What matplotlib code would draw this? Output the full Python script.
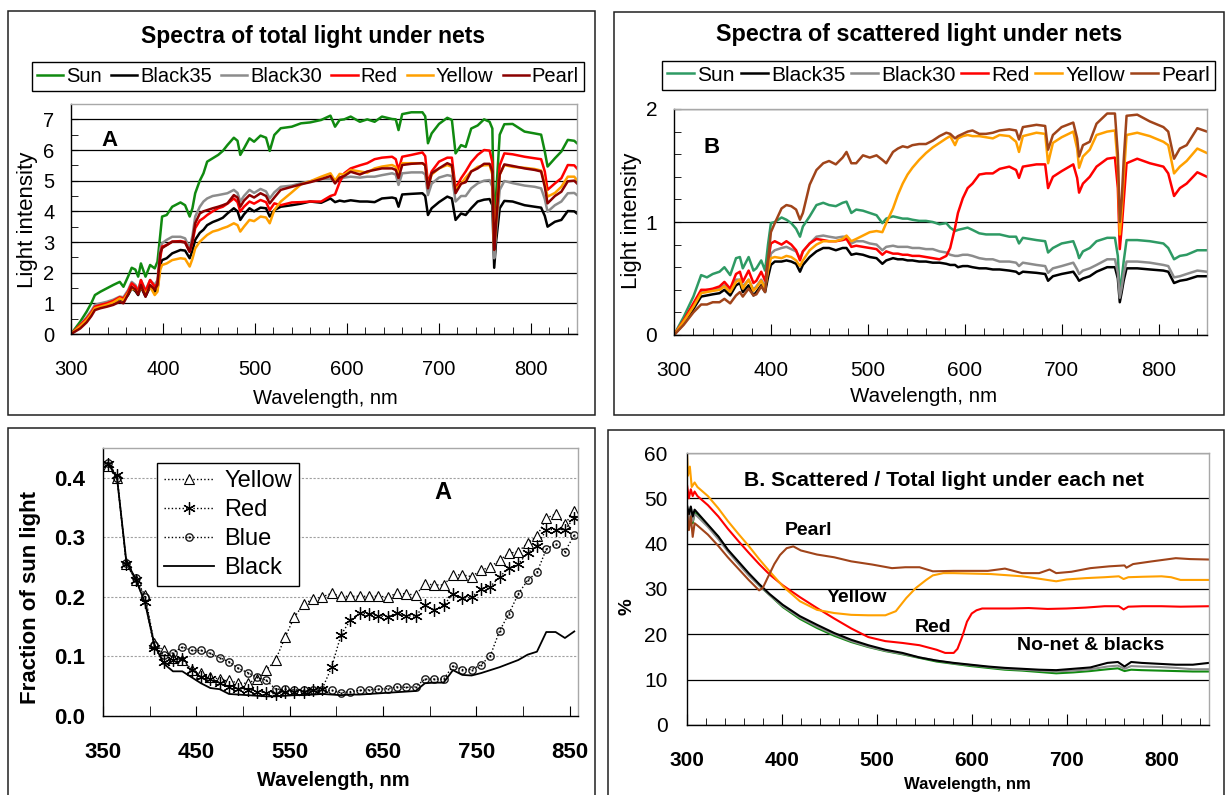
import matplotlib
matplotlib.use('Agg')
import matplotlib.pyplot as plt
from matplotlib.patches import Rectangle
from matplotlib.ticker import MultipleLocator, FixedLocator, FormatStrFormatter

plt.rcParams['font.family'] = ['Liberation Sans', 'DejaVu Sans']

# ---------------- DATA ----------------
# Panel A (top-left): total light spectra
wl_total = [300, 310, 317, 322, 326, 332, 339, 346, 353, 357,
            362, 366, 370, 373, 376, 381, 386, 391, 394, 397,
            399, 404, 410, 419, 424, 429, 432, 435, 440, 444,
            448, 454, 460, 465, 470, 477, 481, 484, 488, 494,
            499, 506, 512, 516, 521, 528, 540, 550, 560, 572,
            582, 587, 592, 597, 604, 614, 622, 630, 638, 649,
            653, 656, 660, 670, 682, 685, 688, 692, 700, 709,
            714, 718, 724, 729, 735, 742, 749, 755, 758, 760,
            762, 766, 771, 780, 793, 804, 811, 815, 818, 826,
            833, 840, 847, 850]
tot_sun = [0, 0.40, 0.73, 1.00, 1.27, 1.38, 1.49, 1.60, 1.70, 1.54,
           1.87, 2.16, 2.10, 1.87, 2.30, 1.87, 2.25, 2.14, 2.36, 3.23,
           3.83, 3.88, 4.15, 4.29, 4.20, 3.83, 4.10, 4.59, 5.00, 5.24,
           5.62, 5.73, 5.84, 5.97, 6.16, 6.40, 6.30, 5.84, 6.05, 6.38,
           6.27, 6.47, 6.40, 5.97, 6.49, 6.71, 6.76, 6.87, 6.90, 6.98,
           7.12, 6.76, 6.98, 7.00, 7.09, 6.92, 7.00, 6.92, 7.09, 7.01,
           7.00, 6.65, 7.17, 7.23, 7.23, 7.10, 6.22, 6.54, 6.85, 7.05,
           6.98, 5.89, 6.16, 6.10, 6.70, 6.80, 7.00, 6.92, 6.70, 3.40,
           4.50, 6.50, 6.84, 6.85, 6.60, 6.54, 6.50, 5.95, 5.46, 5.73,
           5.95, 6.33, 6.30, 6.22]
tot_black35 = [0, 0.24, 0.45, 0.65, 0.84, 0.89, 0.95, 1.03, 1.14, 1.08,
               1.27, 1.49, 1.40, 1.27, 1.54, 1.22, 1.54, 1.38, 1.45, 2.25,
               2.41, 2.47, 2.63, 2.74, 2.72, 2.47, 2.72, 3.07, 3.30, 3.40,
               3.55, 3.65, 3.72, 3.79, 3.93, 4.10, 4.00, 3.72, 3.90, 4.10,
               4.00, 4.12, 4.10, 3.83, 4.04, 4.15, 4.20, 4.25, 4.32, 4.28,
               4.42, 4.30, 4.35, 4.32, 4.36, 4.32, 4.32, 4.30, 4.42, 4.45,
               4.42, 4.15, 4.55, 4.57, 4.59, 4.50, 3.88, 4.10, 4.30, 4.48,
               4.42, 3.72, 3.93, 3.88, 4.10, 4.32, 4.38, 4.40, 4.20, 2.16,
               3.00, 4.10, 4.34, 4.32, 4.20, 4.15, 4.12, 3.85, 3.50, 3.66,
               3.72, 4.01, 4.00, 3.93]
tot_black30 = [0, 0.30, 0.55, 0.75, 0.95, 1.00, 1.05, 1.12, 1.22, 1.20,
               1.43, 1.70, 1.60, 1.43, 1.76, 1.43, 1.76, 1.60, 1.76, 2.79,
               2.96, 3.07, 3.17, 3.17, 3.12, 2.79, 3.20, 3.83, 4.15, 4.32,
               4.42, 4.50, 4.53, 4.56, 4.59, 4.70, 4.60, 4.32, 4.50, 4.70,
               4.60, 4.73, 4.65, 4.42, 4.62, 4.80, 4.84, 4.92, 4.98, 5.05,
               5.05, 4.98, 5.05, 5.10, 5.13, 5.10, 5.13, 5.13, 5.18, 5.24,
               5.20, 4.86, 5.24, 5.27, 5.27, 5.20, 4.53, 4.90, 5.10, 5.18,
               5.15, 4.32, 4.50, 4.50, 4.75, 4.91, 5.00, 5.02, 4.80, 2.47,
               3.30, 4.70, 4.99, 4.92, 4.84, 4.80, 4.75, 4.40, 3.99, 4.20,
               4.32, 4.59, 4.60, 4.53]
tot_red = [0, 0.29, 0.50, 0.70, 0.89, 0.95, 1.00, 1.08, 1.20, 1.15,
           1.38, 1.65, 1.55, 1.38, 1.76, 1.38, 1.76, 1.54, 1.65, 2.47,
           2.85, 2.90, 3.01, 3.03, 3.00, 2.68, 3.00, 3.45, 3.70, 3.78,
           3.88, 4.00, 4.10, 4.15, 4.25, 4.42, 4.30, 3.99, 4.15, 4.32,
           4.25, 4.37, 4.30, 4.04, 4.26, 4.20, 4.29, 4.30, 4.32, 4.32,
           4.50, 4.55, 4.95, 5.24, 5.40, 5.50, 5.57, 5.70, 5.75, 5.78,
           5.70, 5.35, 5.78, 5.84, 5.92, 5.80, 4.91, 5.30, 5.62, 5.75,
           5.75, 4.75, 5.08, 5.30, 5.60, 5.84, 6.00, 5.98, 5.60, 2.80,
           3.80, 5.50, 5.89, 5.86, 5.78, 5.73, 5.70, 5.30, 4.70, 4.91,
           5.08, 5.51, 5.50, 5.40]
tot_yellow = [0, 0.25, 0.45, 0.65, 0.84, 0.89, 0.95, 1.03, 1.16, 1.10,
              1.33, 1.49, 1.44, 1.33, 1.54, 1.33, 1.54, 1.27, 1.38, 2.09,
              2.25, 2.30, 2.41, 2.47, 2.45, 2.20, 2.45, 2.79, 3.01, 3.12,
              3.23, 3.34, 3.39, 3.45, 3.50, 3.61, 3.55, 3.34, 3.50, 3.72,
              3.68, 3.83, 3.80, 3.61, 4.04, 4.32, 4.62, 4.88, 4.98, 5.13,
              5.24, 5.00, 5.22, 5.20, 5.35, 5.30, 5.26, 5.40, 5.46, 5.51,
              5.45, 5.18, 5.57, 5.57, 5.57, 5.50, 4.80, 5.20, 5.40, 5.51,
              5.45, 4.70, 4.90, 5.10, 5.30, 5.45, 5.50, 5.51, 5.20, 2.75,
              3.60, 5.20, 5.51, 5.45, 5.42, 5.38, 5.33, 4.90, 4.48, 4.60,
              4.80, 5.13, 5.13, 5.02]
tot_pearl = [0, 0.18, 0.38, 0.58, 0.78, 0.84, 0.89, 0.95, 1.05, 1.00,
             1.29, 1.54, 1.45, 1.29, 1.60, 1.22, 1.60, 1.45, 1.60, 2.63,
             2.80, 2.90, 3.01, 3.01, 2.98, 2.68, 3.05, 3.61, 3.93, 4.00,
             4.04, 4.10, 4.15, 4.20, 4.26, 4.53, 4.45, 4.15, 4.35, 4.53,
             4.45, 4.59, 4.50, 4.26, 4.45, 4.70, 4.80, 4.88, 4.95, 5.05,
             5.15, 4.91, 5.10, 5.15, 5.29, 5.20, 5.30, 5.35, 5.40, 5.40,
             5.35, 5.08, 5.51, 5.55, 5.57, 5.50, 4.75, 5.24, 5.40, 5.57,
             5.50, 4.59, 4.90, 4.95, 5.30, 5.40, 5.55, 5.55, 5.30, 2.74,
             3.60, 5.20, 5.53, 5.48, 5.40, 5.35, 5.30, 4.80, 4.26, 4.50,
             4.64, 4.98, 5.00, 4.91]

# Panel B (top-right): scattered light spectra
wl_scat = [300, 310, 320, 328, 334, 340, 347, 352, 358, 364,
           368, 371, 377, 382, 385, 390, 394, 397, 400, 404,
           411, 416, 421, 426, 430, 433, 440, 447, 454, 460,
           467, 474, 478, 483, 488, 495, 502, 509, 515, 519,
           526, 531, 536, 541, 546, 553, 560, 567, 574, 581,
           585, 590, 593, 598, 603, 608, 615, 622, 629, 636,
           646, 653, 656, 660, 674, 683, 686, 691, 700, 712,
           716, 718, 722, 729, 736, 747, 755, 758, 760, 762,
           764, 767, 778, 791, 805, 810, 816, 822, 829, 840,
           850]
sc_sun = [0, 0.16, 0.34, 0.53, 0.51, 0.54, 0.56, 0.60, 0.53, 0.68,
          0.69, 0.59, 0.69, 0.57, 0.59, 0.66, 0.57, 0.80, 0.99, 1.00,
          1.04, 1.02, 0.99, 0.94, 0.87, 0.96, 1.05, 1.15, 1.17, 1.15,
          1.14, 1.17, 1.18, 1.08, 1.11, 1.10, 1.08, 1.06, 0.99, 1.03,
          1.05, 1.04, 1.03, 1.03, 1.02, 1.01, 1.01, 1.00, 0.98, 0.99,
          0.95, 0.92, 0.93, 0.94, 0.95, 0.93, 0.90, 0.89, 0.89, 0.89,
          0.87, 0.87, 0.81, 0.86, 0.84, 0.83, 0.73, 0.77, 0.81, 0.83,
          0.74, 0.68, 0.74, 0.77, 0.83, 0.86, 0.86, 0.70, 0.36, 0.50,
          0.65, 0.84, 0.84, 0.83, 0.81, 0.77, 0.67, 0.70, 0.71, 0.75,
          0.75]
sc_black35 = [0, 0.10, 0.23, 0.34, 0.35, 0.36, 0.37, 0.40, 0.35, 0.44,
              0.46, 0.38, 0.44, 0.35, 0.38, 0.44, 0.38, 0.51, 0.62, 0.65,
              0.65, 0.66, 0.65, 0.63, 0.56, 0.62, 0.69, 0.74, 0.77, 0.77,
              0.75, 0.77, 0.77, 0.71, 0.72, 0.71, 0.69, 0.68, 0.63, 0.66,
              0.68, 0.67, 0.67, 0.66, 0.66, 0.65, 0.65, 0.64, 0.64, 0.63,
              0.62, 0.62, 0.60, 0.61, 0.61, 0.60, 0.59, 0.59, 0.58, 0.58,
              0.57, 0.56, 0.54, 0.56, 0.55, 0.54, 0.48, 0.52, 0.54, 0.56,
              0.51, 0.48, 0.50, 0.52, 0.56, 0.60, 0.60, 0.50, 0.29, 0.38,
              0.48, 0.59, 0.59, 0.58, 0.57, 0.56, 0.46, 0.48, 0.49, 0.52,
              0.52]
sc_black30 = [0, 0.12, 0.26, 0.38, 0.40, 0.40, 0.41, 0.44, 0.40, 0.49,
              0.49, 0.43, 0.49, 0.40, 0.43, 0.49, 0.43, 0.59, 0.72, 0.75,
              0.77, 0.78, 0.76, 0.74, 0.68, 0.74, 0.81, 0.87, 0.88, 0.87,
              0.86, 0.87, 0.87, 0.81, 0.83, 0.83, 0.81, 0.80, 0.75, 0.78,
              0.79, 0.78, 0.78, 0.78, 0.77, 0.77, 0.76, 0.76, 0.74, 0.73,
              0.71, 0.70, 0.70, 0.71, 0.71, 0.70, 0.68, 0.67, 0.67, 0.65,
              0.65, 0.64, 0.61, 0.64, 0.62, 0.61, 0.55, 0.59, 0.61, 0.64,
              0.58, 0.54, 0.57, 0.59, 0.62, 0.67, 0.67, 0.55, 0.33, 0.42,
              0.54, 0.65, 0.65, 0.64, 0.62, 0.61, 0.51, 0.52, 0.54, 0.57,
              0.56]
sc_red = [0, 0.13, 0.28, 0.40, 0.40, 0.41, 0.43, 0.47, 0.41, 0.54,
          0.56, 0.47, 0.57, 0.46, 0.48, 0.56, 0.48, 0.65, 0.81, 0.83,
          0.80, 0.83, 0.80, 0.75, 0.66, 0.74, 0.81, 0.85, 0.84, 0.83,
          0.83, 0.84, 0.85, 0.78, 0.79, 0.78, 0.77, 0.76, 0.71, 0.74,
          0.72, 0.72, 0.71, 0.71, 0.70, 0.70, 0.69, 0.68, 0.67, 0.70,
          0.77, 0.95, 1.08, 1.21, 1.30, 1.34, 1.42, 1.43, 1.43, 1.47,
          1.49, 1.46, 1.39, 1.49, 1.51, 1.51, 1.30, 1.40, 1.45, 1.51,
          1.39, 1.26, 1.34, 1.40, 1.49, 1.56, 1.57, 1.30, 0.76, 0.95,
          1.18, 1.52, 1.56, 1.52, 1.49, 1.43, 1.23, 1.30, 1.34, 1.44,
          1.40]
sc_yellow = [0, 0.12, 0.25, 0.37, 0.38, 0.39, 0.40, 0.43, 0.38, 0.47,
             0.49, 0.41, 0.49, 0.39, 0.42, 0.48, 0.41, 0.57, 0.68, 0.69,
             0.68, 0.70, 0.69, 0.66, 0.61, 0.66, 0.75, 0.80, 0.83, 0.83,
             0.83, 0.85, 0.88, 0.83, 0.85, 0.88, 0.91, 0.92, 0.91, 0.99,
             1.12, 1.24, 1.34, 1.42, 1.48, 1.55, 1.61, 1.66, 1.70, 1.74,
             1.76, 1.68, 1.74, 1.76, 1.77, 1.76, 1.76, 1.75, 1.74, 1.77,
             1.76, 1.71, 1.62, 1.76, 1.79, 1.78, 1.52, 1.70, 1.75, 1.80,
             1.65, 1.48, 1.58, 1.64, 1.77, 1.80, 1.81, 1.50, 0.89, 1.10,
             1.39, 1.77, 1.79, 1.76, 1.71, 1.68, 1.43, 1.49, 1.54, 1.65,
             1.61]
sc_pearl = [0, 0.09, 0.20, 0.27, 0.27, 0.29, 0.29, 0.32, 0.28, 0.35,
            0.38, 0.34, 0.41, 0.35, 0.36, 0.43, 0.38, 0.65, 0.91, 0.99,
            1.12, 1.15, 1.14, 1.11, 1.02, 1.08, 1.33, 1.46, 1.52, 1.54,
            1.51, 1.57, 1.62, 1.52, 1.52, 1.59, 1.57, 1.59, 1.55, 1.52,
            1.62, 1.65, 1.67, 1.66, 1.68, 1.69, 1.69, 1.72, 1.76, 1.79,
            1.78, 1.74, 1.76, 1.78, 1.80, 1.81, 1.78, 1.78, 1.79, 1.81,
            1.82, 1.81, 1.73, 1.84, 1.86, 1.85, 1.64, 1.77, 1.84, 1.88,
            1.74, 1.58, 1.68, 1.71, 1.87, 1.96, 1.96, 1.60, 1.00, 1.20,
            1.54, 1.94, 1.95, 1.89, 1.84, 1.80, 1.56, 1.65, 1.68, 1.83,
            1.80]

# Panel A (bottom-left): fraction of sun light
frac_wl = [355, 365, 375, 385, 395, 405, 415, 425, 435, 445,
           455, 465, 475, 485, 495, 505, 515, 525, 535, 545,
           555, 565, 575, 585, 595, 605, 615, 625, 635, 645,
           655, 665, 675, 685, 695, 705, 715, 725, 735, 745,
           755, 765, 775, 785, 795, 805, 815, 825, 835, 845,
           855]
frac_yellow = [0.420, 0.400, 0.256, 0.229, 0.203, 0.122, 0.110, 0.097, 0.094, 0.077,
               0.072, 0.065, 0.062, 0.060, 0.055, 0.055, 0.062, 0.077, 0.094, 0.132,
               0.166, 0.188, 0.196, 0.200, 0.206, 0.201, 0.201, 0.201, 0.201, 0.201,
               0.200, 0.206, 0.205, 0.203, 0.222, 0.220, 0.220, 0.237, 0.237, 0.234,
               0.245, 0.250, 0.262, 0.273, 0.276, 0.290, 0.302, 0.332, 0.339, 0.322,
               0.345]
frac_red = [0.423, 0.405, 0.255, 0.228, 0.192, 0.115, 0.090, 0.094, 0.095, 0.078,
            0.066, 0.062, 0.055, 0.049, 0.046, 0.043, 0.041, 0.039, 0.037, 0.041,
            0.041, 0.041, 0.043, 0.046, 0.082, 0.136, 0.161, 0.173, 0.171, 0.168,
            0.167, 0.173, 0.168, 0.168, 0.186, 0.178, 0.186, 0.205, 0.198, 0.199,
            0.214, 0.217, 0.234, 0.248, 0.255, 0.274, 0.285, 0.313, 0.313, 0.313,
            0.333]
frac_blue = [0.425, 0.400, 0.257, 0.231, 0.200, 0.119, 0.102, 0.106, 0.116, 0.110,
             0.110, 0.105, 0.098, 0.091, 0.080, 0.073, 0.065, 0.060, 0.045, 0.045,
             0.044, 0.043, 0.043, 0.043, 0.043, 0.039, 0.041, 0.043, 0.044, 0.045,
             0.046, 0.049, 0.048, 0.049, 0.062, 0.062, 0.062, 0.084, 0.078, 0.078,
             0.086, 0.101, 0.143, 0.172, 0.205, 0.228, 0.241, 0.280, 0.289, 0.276,
             0.304]
frac_black = [0.425, 0.400, 0.260, 0.230, 0.190, 0.120, 0.088, 0.075, 0.075, 0.065,
              0.055, 0.047, 0.045, 0.037, 0.036, 0.035, 0.034, 0.033, 0.033, 0.034,
              0.035, 0.035, 0.036, 0.037, 0.036, 0.035, 0.036, 0.036, 0.037, 0.038,
              0.039, 0.040, 0.041, 0.042, 0.055, 0.056, 0.056, 0.077, 0.069, 0.068,
              0.072, 0.077, 0.082, 0.088, 0.094, 0.103, 0.108, 0.141, 0.141, 0.131,
              0.142]

# Panel B (bottom-right): scattered / total (%)
ratio_base_wl = [300, 302, 304, 306, 308, 311, 322, 333, 343, 354,
                 365, 376, 387, 401, 419, 437, 455, 473, 491, 509,
                 527, 545, 563, 581, 599, 617, 635, 653, 671, 689,
                 707, 725, 743, 754, 761, 768, 779, 797, 815, 833,
                 850]
ratio_sun = [47.0, 45.0, 47.5, 44.5, 46.8, 46.5, 44.0, 41.5, 38.5, 35.8,
             33.2, 30.8, 28.7, 26.0, 23.4, 21.4, 19.7, 18.3, 17.2, 16.3,
             15.6, 14.8, 14.0, 13.5, 13.0, 12.6, 12.2, 12.0, 11.7, 11.4,
             11.6, 11.9, 12.3, 12.5, 11.9, 12.2, 12.1, 12.0, 11.9, 11.8,
             11.8]
ratio_black35 = [48.5, 46.5, 48.2, 46.0, 47.5, 46.8, 44.2, 41.6, 38.7, 36.1,
                 33.5, 31.1, 28.9, 26.5, 24.0, 22.1, 20.3, 18.8, 17.6, 16.6,
                 15.9, 14.9, 14.2, 13.7, 13.3, 12.9, 12.6, 12.4, 12.2, 12.1,
                 12.4, 12.7, 13.7, 13.9, 12.9, 13.9, 13.7, 13.5, 13.3, 13.3,
                 13.7]
ratio_black30 = [47.5, 44.5, 48.0, 45.0, 46.5, 46.0, 43.7, 41.0, 38.3, 35.6,
                 33.0, 30.8, 28.7, 26.2, 23.7, 21.7, 20.0, 18.5, 17.3, 16.4,
                 15.7, 14.9, 14.2, 13.6, 13.2, 12.8, 12.4, 12.2, 12.0, 11.8,
                 12.0, 12.3, 12.9, 13.1, 12.4, 13.0, 12.9, 12.8, 12.6, 12.3,
                 12.3]
ratio_red_wl = [300, 302, 304, 306, 308, 311, 322, 333, 343, 354,
                365, 376, 387, 401, 419, 437, 455, 473, 491, 509,
                527, 545, 563, 572, 581, 585, 590, 595, 600, 605,
                611, 620, 640, 660, 680, 700, 720, 740, 755, 760,
                765, 780, 800, 820, 850]
ratio_red = [53.0, 50.0, 52.0, 50.5, 51.5, 50.5, 48.5, 46.0, 43.3, 40.6,
             38.0, 35.5, 33.2, 30.8, 28.2, 25.8, 23.5, 21.3, 19.4, 18.5,
             18.1, 17.6, 16.6, 15.9, 15.9, 16.8, 19.5, 22.8, 24.6, 25.3,
             25.7, 25.7, 25.7, 25.8, 25.6, 25.7, 25.9, 26.2, 26.2, 25.5,
             26.1, 26.2, 26.2, 26.1, 26.2]
ratio_yellow_wl = [300, 301, 303, 305, 308, 311, 322, 333, 343, 354,
                   365, 376, 387, 401, 419, 437, 455, 473, 491, 509,
                   520, 531, 541, 552, 559, 570, 581, 600, 620, 640,
                   653, 670, 689, 700, 720, 740, 755, 760, 765, 780,
                   800, 810, 820, 850]
ratio_yellow = [60.0, 55.0, 57.0, 52.5, 53.5, 52.5, 50.5, 47.8, 45.0, 42.2,
                39.5, 36.6, 33.9, 30.6, 27.3, 25.4, 24.7, 24.3, 24.2, 24.2,
                25.1, 28.0, 30.2, 32.0, 33.0, 33.5, 33.5, 33.4, 33.3, 33.0,
                32.8, 32.3, 31.7, 32.1, 32.4, 32.6, 32.8, 32.2, 32.6, 32.7,
                32.8, 32.6, 32.0, 32.0]
ratio_pearl_wl = [300, 302, 304, 306, 308, 311, 322, 333, 343, 354,
                  365, 376, 380, 385, 392, 398, 405, 412, 420, 437,
                  455, 473, 495, 516, 530, 545, 559, 581, 600, 617,
                  635, 653, 671, 682, 689, 705, 725, 745, 761, 763,
                  770, 790, 815, 830, 850]
ratio_pearl = [47.0, 43.0, 46.0, 41.5, 44.5, 44.0, 42.0, 39.5, 37.0, 34.5,
               32.0, 29.7, 30.3, 32.5, 35.5, 37.5, 39.0, 39.4, 38.5, 37.6,
               37.0, 36.1, 35.4, 34.6, 34.8, 34.8, 33.9, 34.0, 34.0, 34.0,
               34.5, 33.5, 33.5, 34.3, 33.5, 33.8, 34.6, 35.0, 35.2, 34.7,
               35.5, 36.1, 36.8, 36.6, 36.5]

net_labels = ['Sun', 'Black35', 'Black30', 'Red', 'Yellow', 'Pearl']

# ---------------- FIGURE ----------------
W, H = 1228, 795
fig = plt.figure(figsize=(W / 100, H / 100), dpi=100)


def rect_px(l, t, r, b):
    return [l / W, 1 - b / H, (r - l) / W, (b - t) / H]


for (l, t, r, b) in [(8, 11, 595, 415), (614, 12, 1224, 415),
                     (8, 428, 595, 805), (608, 430, 1224, 805)]:
    fig.patches.append(Rectangle((l / W, 1 - b / H), (r - l) / W, (b - t) / H,
                                 transform=fig.transFigure, fill=False,
                                 edgecolor='#202020', lw=1.1))


def box_spines(ax):
    for s in ['left', 'bottom']:
        ax.spines[s].set_color('black')
        ax.spines[s].set_linewidth(1.0)
    for s in ['top', 'right']:
        ax.spines[s].set_color('#a8a8a8')
        ax.spines[s].set_linewidth(1.0)


# ---- Top-left ----
ax1 = fig.add_axes(rect_px(71, 104, 577, 334))
cols1 = ['#108a10', 'black', '#8c8c8c', '#ff0000', '#ffa000', '#8b0000']
series1 = [tot_sun, tot_black35, tot_black30, tot_red, tot_yellow, tot_pearl]
h1 = []
for ys, c, lab in zip(series1, cols1, net_labels):
    ln, = ax1.plot(wl_total, ys, color=c, lw=1.8, label=lab)
    h1.append(ln)
ax1.set_xlim(300, 850)
ax1.set_ylim(0, 7.5)
ax1.xaxis.set_major_locator(MultipleLocator(100))
ax1.xaxis.set_minor_locator(MultipleLocator(20))
ax1.yaxis.set_major_locator(MultipleLocator(1))
ax1.yaxis.set_minor_locator(MultipleLocator(0.5))
ax1.grid(axis='y', which='major', color='black', lw=0.9)
ax1.set_axisbelow(True)
ax1.tick_params(which='both', direction='in', top=False, right=False)
ax1.tick_params(axis='x', which='major', length=8, labelsize=14.5, pad=19)
ax1.tick_params(axis='x', which='minor', length=5)
ax1.tick_params(axis='y', which='major', length=5, labelsize=14.5, pad=12)
ax1.tick_params(axis='y', which='minor', length=5)
box_spines(ax1)
ax1.text(342, 6.3, 'A', fontsize=16, fontweight='bold', ha='center', va='center')
fig.text(313 / W, 1 - 37 / H, 'Spectra of total light under nets', fontsize=16.5,
         fontweight='bold', ha='center', va='center')
fig.text(28 / W, 1 - 220 / H, 'Light intensity', fontsize=16, rotation=90,
         ha='center', va='center')
fig.text(325 / W, 1 - 398 / H, 'Wavelength, nm', fontsize=14.5, ha='center', va='center')
leg_kw = dict(loc='lower left', mode='expand', ncol=6, frameon=True,
              fancybox=False, edgecolor='black', framealpha=1, borderpad=0.25,
              handlelength=1.3, handletextpad=0.15, columnspacing=0.5, borderaxespad=0)
lg1 = fig.legend(h1, net_labels, bbox_to_anchor=(32 / W, 1 - 91 / H, 552 / W, 33 / H),
                 fontsize=14.5, **leg_kw)
lg1.get_frame().set_linewidth(1.0)

# ---- Top-right ----
ax2 = fig.add_axes(rect_px(674, 109, 1207, 335))
cols2 = ['#2e9a64', 'black', '#8c8c8c', '#ff0000', '#ffa000', '#a0441a']
series2 = [sc_sun, sc_black35, sc_black30, sc_red, sc_yellow, sc_pearl]
h2 = []
for ys, c, lab in zip(series2, cols2, net_labels):
    ln, = ax2.plot(wl_scat, ys, color=c, lw=1.8, label=lab)
    h2.append(ln)
ax2.set_xlim(300, 850)
ax2.set_ylim(0, 2)
ax2.xaxis.set_major_locator(MultipleLocator(100))
ax2.xaxis.set_minor_locator(MultipleLocator(20))
ax2.yaxis.set_major_locator(MultipleLocator(1))
ax2.yaxis.set_minor_locator(MultipleLocator(0.2))
ax2.grid(axis='y', which='major', color='black', lw=0.9)
ax2.set_axisbelow(True)
ax2.tick_params(which='both', direction='in', top=False, right=False)
ax2.tick_params(axis='x', which='major', length=8, labelsize=15, pad=19)
ax2.tick_params(axis='x', which='minor', length=5)
ax2.tick_params(axis='y', which='major', length=5, labelsize=15, pad=12)
ax2.tick_params(axis='y', which='minor', length=5)
box_spines(ax2)
ax2.text(339, 1.66, 'B', fontsize=16, fontweight='bold', ha='center', va='center')
fig.text(919 / W, 1 - 35 / H, 'Spectra of scattered light under nets', fontsize=16.8,
         fontweight='bold', ha='center', va='center')
fig.text(632 / W, 1 - 221 / H, 'Light intensity', fontsize=16, rotation=90,
         ha='center', va='center')
fig.text(924 / W, 1 - 397 / H, 'Wavelength, nm', fontsize=14.8, ha='center', va='center')
lg2 = fig.legend(h2, net_labels, bbox_to_anchor=(662 / W, 1 - 90 / H, 553 / W, 33 / H),
                 fontsize=15, **leg_kw)
lg2.get_frame().set_linewidth(1.0)

# ---- Bottom-left ----
ax3 = fig.add_axes(rect_px(103, 448, 578, 716))
dots = (0, (1, 1.6))
ax3.plot(frac_wl, frac_yellow, color='black', lw=1.0, ls=dots, marker='^', ms=7.5,
         mfc='white', mec='black', mew=0.8, label='Yellow')
ax3.plot(frac_wl, frac_red, color='black', lw=1.0, ls=dots, marker=(6, 2, 0), ms=9,
         mec='black', mew=0.9, label='Red')
ax3.plot(frac_wl, frac_blue, color='black', lw=1.0, ls=dots, marker=r'$\odot$', ms=6,
         mec='black', mfc='black', mew=0.2, label='Blue')
ax3.plot(frac_wl, frac_black, color='black', lw=1.3, ls='-', label='Black')
ax3.set_xlim(350, 859)
ax3.set_ylim(0, 0.45)
ax3.xaxis.set_major_locator(FixedLocator([350, 450, 550, 650, 750, 850]))
ax3.xaxis.set_minor_locator(FixedLocator([400, 500, 600, 700, 800]))
ax3.yaxis.set_major_locator(MultipleLocator(0.1))
ax3.yaxis.set_major_formatter(FormatStrFormatter('%.1f'))
ax3.grid(axis='y', which='major', color='#a0a0a0', lw=0.8, ls=(0, (2, 1.5)))
ax3.set_axisbelow(True)
ax3.tick_params(which='both', direction='in', top=False, right=False, length=7)
ax3.tick_params(axis='x', which='major', labelsize=16, pad=19)
ax3.tick_params(axis='y', which='major', labelsize=16, pad=13, length=0)
for lab in ax3.get_xticklabels() + ax3.get_yticklabels():
    lab.set_fontweight('bold')
box_spines(ax3)
ax3.text(714, 0.376, 'A', fontsize=17, fontweight='bold', ha='center', va='center')
fig.text(30.6 / W, 1 - 598 / H, 'Fraction of sun light', fontsize=16, fontweight='bold',
         rotation=90, ha='center', va='center')
fig.text(333 / W, 1 - 780 / H, 'Wavelength, nm', fontsize=14.4, fontweight='bold',
         ha='center', va='center')
lg3 = ax3.legend(loc='upper left', bbox_to_anchor=(0.1137, 0.944), fontsize=17,
                 frameon=True, fancybox=False, edgecolor='black', framealpha=1,
                 borderpad=0.3, labelspacing=0.3, handlelength=2.1, handletextpad=0.45,
                 borderaxespad=0)
lg3.get_frame().set_linewidth(1.0)

# ---- Bottom-right ----
ax4 = fig.add_axes(rect_px(687, 453, 1209, 725))
ax4.plot(ratio_base_wl, ratio_sun, color='#108a10', lw=1.5)
ax4.plot(ratio_base_wl, ratio_black30, color='#8c8c8c', lw=1.5)
ax4.plot(ratio_base_wl, ratio_black35, color='black', lw=1.5)
ax4.plot(ratio_red_wl, ratio_red, color='#ff0000', lw=1.5)
ax4.plot(ratio_yellow_wl, ratio_yellow, color='#ffa000', lw=1.5)
ax4.plot(ratio_pearl_wl, ratio_pearl, color='#a0441a', lw=1.5)
ax4.set_xlim(300, 850)
ax4.set_ylim(0, 60)
ax4.xaxis.set_major_locator(MultipleLocator(100))
ax4.xaxis.set_minor_locator(MultipleLocator(20))
ax4.yaxis.set_major_locator(MultipleLocator(10))
ax4.grid(axis='y', which='major', color='black', lw=0.9)
ax4.set_axisbelow(True)
ax4.tick_params(which='both', direction='in', top=False, right=False)
ax4.tick_params(axis='x', which='major', length=8, labelsize=15, pad=19)
ax4.tick_params(axis='x', which='minor', length=5)
ax4.tick_params(axis='y', which='major', length=0, labelsize=15, pad=14)
for lab in ax4.get_xticklabels():
    lab.set_fontweight('bold')
box_spines(ax4)
ax4.text(571, 54, 'B. Scattered / Total light under each net', fontsize=15.3,
         fontweight='bold', ha='center', va='center')
ax4.text(428, 43, 'Pearl', fontsize=14, fontweight='bold', ha='center', va='center')
ax4.text(479, 28.2, 'Yellow', fontsize=14, fontweight='bold', ha='center', va='center')
ax4.text(559, 21.6, 'Red', fontsize=14, fontweight='bold', ha='center', va='center')
ax4.text(725, 17.6, 'No-net & blacks', fontsize=14, fontweight='bold', ha='center', va='center')
fig.text(627 / W, 1 - 607 / H, '%', fontsize=13.5, fontweight='bold', rotation=90,
         ha='center', va='center')
fig.text(967 / W, 1 - 784 / H, 'Wavelength, nm', fontsize=12, fontweight='bold',
         ha='center', va='center')

fig.savefig('out.png', dpi=100)
